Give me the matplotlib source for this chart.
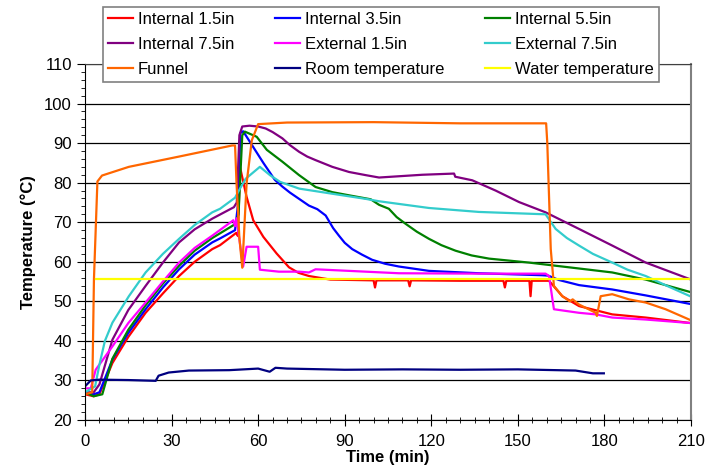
import matplotlib
matplotlib.use("Agg")
import matplotlib.pyplot as plt
from matplotlib.ticker import MultipleLocator

plt.rcParams['font.family'] = ['Liberation Sans', 'DejaVu Sans']

# Internal 1.5in
int15_t = [0, 3, 5, 9.5, 15, 21, 27, 32.6, 38, 44.1, 46.8, 52.4, 53.0, 53.7, 56, 58.3, 61.8, 66.4,
           70.7, 74, 77.6, 85, 100, 100.5, 101, 112, 112.5, 113, 130, 145, 145.5, 146, 154,
           154.4, 154.8, 158, 160.2, 160.8, 165.4, 171.2, 182.7, 194.3, 210]
int15_v = [26.5, 26, 26.5, 34.4, 41, 47.1, 52, 56.4, 60, 63.2, 64.2, 67.3, 66.5, 84, 76.4, 70.5, 66.3,
           62.1, 58.6, 57.2, 56.4, 55.5, 55.3, 53.5, 55.3, 55.3, 53.8, 55.3, 55.2, 55.2, 53.5, 55.2,
           55.2, 51.3, 55.2, 55.2, 55.2, 55.2, 51.3, 48.8, 46.7, 45.9, 44.5]

# Internal 3.5in
int35_t = [0, 3, 5, 9.5, 15, 21, 27, 32.6, 38, 44.1, 46.8, 52, 53.1, 53.8, 54.8, 58.3, 61.8, 65.8,
           68.4, 71, 74.2, 77.6, 80.5, 83.4, 86, 88, 90, 92.6, 96, 99.5, 104, 108.8, 119.2, 136.5,
           158.4, 160.5, 164.2, 171.2, 182.7, 194.3, 210]
int35_v = [27, 26.5, 27, 35.3, 42, 48, 53.5, 58.1, 61.8, 64.9, 65.9, 68, 75, 92.5, 93, 89, 85, 80.7,
           79, 77.5, 75.9, 74.2, 73.3, 71.7, 68.5, 66.6, 64.8, 63.2, 61.8, 60.5, 59.5, 58.8, 57.7,
           57.1, 56.6, 56.5, 55.4, 54.1, 53, 51.5, 49.3]

# Internal 5.5in
int55_t = [0, 3, 6, 9.5, 15, 21, 27, 32.6, 38, 44.1, 52, 53.2, 54.5, 55.4, 59.5, 63, 68.4, 74.2,
           79.9, 85.7, 91.5, 99, 101.9, 105.3, 108, 111.1, 115, 119.2, 123.5, 128.4, 134, 140,
           153.8, 159.6, 171.2, 182.7, 194.3, 210]
int55_v = [27, 26, 26.5, 35.5, 42.8, 49, 54.5, 59, 62.8, 66, 69.5, 72, 92, 92.9, 91.6, 88.3, 85.3, 81.9,
           78.9, 77.6, 76.8, 75.8, 74.4, 73.4, 71.3, 69.6, 67.6, 65.8, 64.2, 62.8, 61.6, 60.8,
           59.8, 59.3, 58.3, 57.3, 55.5, 52.3]

# Internal 7.5in
int75_t = [0, 3, 5, 9.5, 15, 21, 27, 32.6, 38, 44.1, 51.6, 52.6, 53.5, 54.5, 57, 60, 62.6, 65,
           68.4, 71, 74.2, 77, 79.9, 85.7, 91.5, 97.3, 101.9, 116.9, 127.9, 128.3, 134.2, 142.3,
           150.4, 159.6, 171.2, 182.7, 194.3, 210]
int75_v = [27, 27, 29, 40.3, 47.8, 53.9, 59.8, 64.9, 68.2, 70.9, 73.8, 75, 92, 94.2, 94.4, 94.2, 93.7,
           92.8, 91.2, 89.5, 87.8, 86.6, 85.7, 84, 82.7, 81.9, 81.3, 82, 82.3, 81.5, 80.6, 78,
           75.1, 72.5, 68.3, 64.1, 59.8, 55.5]

# External 1.5in
ext15_t = [0, 2, 3.7, 9.5, 15, 21, 27, 32.6, 38, 44.1, 51.4, 52, 52.5, 54.8, 56, 60, 60.6, 67.2,
           74.2, 77.6, 79.9, 91.5, 108.8, 136.5, 159.6, 160.8, 162.5, 171.2, 177, 182.7, 194.3, 210]
ext15_v = [28, 28, 32.7, 38.6, 44.5, 49.7, 55, 59.8, 63.5, 66.6, 70.5, 69, 71, 58.8, 63.8, 63.8, 58,
           57.5, 57.5, 57.3, 58.1, 57.7, 57.1, 57, 57, 56.4, 48, 47.1, 46.7, 45.9, 45.4, 44.5]

# External 7.5in
ext75_t = [0, 3.5, 5, 6.9, 9.5, 15.2, 21, 27, 32.6, 38, 44.1, 46.8, 52, 53.7, 55.7, 60.6, 64.1, 67.6,
           74.2, 85.7, 97.3, 101.9, 119.2, 136.5, 159.6, 163.1, 167, 171.2, 176, 182.7, 188,
           194.3, 202, 210]
ext75_v = [27, 28.5, 34, 40, 44.6, 51.3, 57.3, 62, 65.8, 69.3, 72.5, 73.4, 76.2, 78.5, 81, 84, 81.9,
           80.2, 78.5, 77.2, 75.9, 75.3, 73.6, 72.6, 72, 68.3, 66, 64.1, 62, 59.8, 58, 56.4, 53.8,
           51.2]

# Funnel
funnel_t = [0, 2.5, 3.1, 4.3, 5.9, 8, 15.2, 32.6, 51, 52, 52.5, 53.5, 54.5, 56, 57.8, 60, 70, 100,
            130, 159.8, 160.2, 161.4, 162.5, 165.4, 168, 169, 171.2, 177, 177.4, 178.7,
            182.7, 188.5, 194.3, 201.2, 210]
funnel_v = [26.5, 27, 55.6, 80.3, 81.8, 82.3, 84, 86.6, 89.4, 89.4, 80, 66, 58.5, 79.8, 90.7, 94.8,
            95.2, 95.3, 95, 95, 90, 63.2, 53.9, 51.3, 50, 50.5, 49.2, 47.1, 46.3, 51.3,
            51.8, 50.5, 49.7, 48, 45.2]

# Room temperature
room_t = [0, 2, 5, 15, 24.5, 25.5, 29, 36, 50, 60, 64, 66, 70, 90, 110, 130, 150, 170, 176, 179.8]
room_v = [28.5, 30, 30.2, 30.1, 29.9, 31.2, 32, 32.5, 32.6, 33, 32.2, 33.2, 33, 32.7, 32.8, 32.7,
          32.8, 32.5, 31.8, 31.8]

# Water temperature
water_t = [3.7, 60, 120, 180, 210]
water_v = [55.7, 55.7, 55.7, 55.7, 55.7]

series = [
    ("Internal 1.5in", int15_t, int15_v, "#ff0000"),
    ("Internal 3.5in", int35_t, int35_v, "#0000ff"),
    ("Internal 5.5in", int55_t, int55_v, "#008000"),
    ("Internal 7.5in", int75_t, int75_v, "#800080"),
    ("External 1.5in", ext15_t, ext15_v, "#ff00ff"),
    ("External 7.5in", ext75_t, ext75_v, "#33cccc"),
    ("Funnel", funnel_t, funnel_v, "#ff6600"),
    ("Room temperature", room_t, room_v, "#000080"),
    ("Water temperature", water_t, water_v, "#ffff00"),
]

fig = plt.figure(figsize=(7.11, 4.73), dpi=100)
ax = fig.add_axes([85 / 711, 1 - 420 / 473, 606 / 711, 356 / 473])

handles = {}
for name, t, v, c in series:
    line, = ax.plot(t, v, color=c, lw=1.6, label=name)
    handles[name] = line

ax.set_xlim(0, 210)
ax.set_ylim(20, 110)
ax.xaxis.set_major_locator(MultipleLocator(30))
ax.xaxis.set_minor_locator(MultipleLocator(5))
ax.yaxis.set_major_locator(MultipleLocator(10))
ax.yaxis.set_minor_locator(MultipleLocator(2))
ax.yaxis.grid(True, which='major', color='black', lw=0.9)
ax.set_axisbelow(True)

ax.tick_params(axis='x', which='major', direction='inout', length=8, labelsize=12, pad=6)
ax.tick_params(axis='x', which='minor', direction='inout', length=4)
ax.tick_params(axis='y', which='major', direction='out', length=6, labelsize=12)
ax.tick_params(axis='y', which='minor', direction='out', length=3)

for s in ['left', 'bottom']:
    ax.spines[s].set_color('black')
ax.spines['top'].set_color('#404040')
ax.spines['right'].set_color('#808080')
ax.spines['right'].set_linewidth(1.5)

ax.set_xlabel("Time (min)", fontsize=12, fontweight='bold', labelpad=1)
ax.set_ylabel("Temperature (°C)", fontsize=12, fontweight='bold', labelpad=6)

order = ["Internal 1.5in", "Internal 7.5in", "Funnel",
         "Internal 3.5in", "External 1.5in", "Room temperature",
         "Internal 5.5in", "External 7.5in", "Water temperature"]
leg = fig.legend([handles[n] for n in order], order, ncol=3, mode='expand',
                 bbox_to_anchor=(103 / 711, 1 - 85 / 473, 556 / 711, 78 / 473),
                 loc='upper left', fontsize=12, frameon=True, fancybox=False,
                 edgecolor='#808080', framealpha=1, handlelength=1.5,
                 handletextpad=0.3, labelspacing=0.6, borderaxespad=0, borderpad=0.3,
                 columnspacing=0.5)
leg.get_frame().set_linewidth(1.2)

fig.savefig("out.png", dpi=100)
